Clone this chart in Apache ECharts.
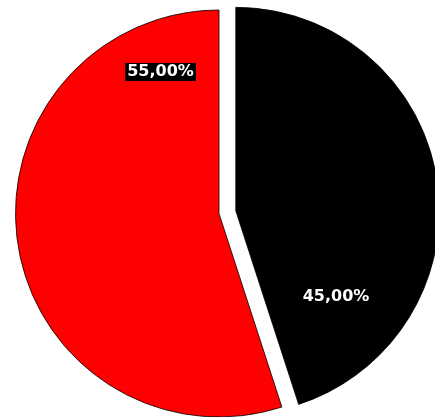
<!DOCTYPE html>
<html>
<head>
<meta charset="utf-8">
<script src="https://cdn.jsdelivr.net/npm/echarts@6/dist/echarts.min.js"></script>
<style>
  html, body { margin: 0; padding: 0; background: #fff; }
  #chart { width: 435px; height: 417px; }
</style>
</head>
<body>
<div id="chart"></div>
<script>
// Share of each group, in percent
const categories = ['B', 'A'];
const shares = [45, 55];
const colors = ['#000000', '#ff0000'];
const labelTexts = ['45,00%', '55,00%'];

const chart = echarts.init(document.getElementById('chart'), null, { renderer: 'canvas' });

const labelOffsets = [[-1.5, 91], [45, -158]];
const labelBoxes = [
  { backgroundColor: 'transparent', padding: 0 },
  { backgroundColor: '#000000', padding: [1, 2, 1, 2] }
];

const data = categories.map((name, i) => {
  const label = Object.assign({
    show: true,
    position: 'inside',
    color: '#ffffff',
    fontFamily: 'DejaVu Sans',
    fontWeight: 'bold',
    fontSize: 16,
    formatter: labelTexts[i],
    offset: labelOffsets[i]
  }, labelBoxes[i]);
  return {
    name: name,
    value: shares[i],
    selected: i === 0,
    itemStyle: { color: colors[i] },
    select: {
      itemStyle: { color: colors[i], borderColor: '#000', borderWidth: 0.8 },
      label: label
    },
    label: label
  };
});

chart.setOption({
  animation: false,
  backgroundColor: '#ffffff',
  series: [{
    type: 'pie',
    center: [219, 213.5],
    radius: 203.5,
    startAngle: 90,
    clockwise: true,
    selectedMode: 'single',
    selectedOffset: 17,
    emphasis: { disabled: true },
    itemStyle: { borderColor: '#000', borderWidth: 0.8 },
    labelLine: { show: false },
    data: data
  }]
});
</script>
</body>
</html>
